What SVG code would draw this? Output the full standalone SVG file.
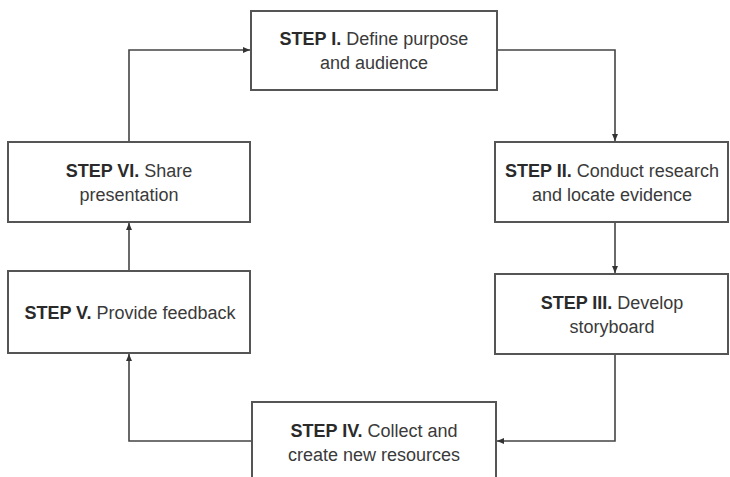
<svg xmlns="http://www.w3.org/2000/svg" width="730" height="477" viewBox="0 0 730 477">
<style>
.box{fill:#fff;stroke:#555;stroke-width:2}
.t{font-family:"Liberation Sans",Arial,sans-serif;font-size:18px;fill:#3a3a3a;text-anchor:middle}
.b{font-weight:bold;fill:#2a2a2a}
.c{fill:none;stroke:#444;stroke-width:1.6}
</style>
<defs>
<marker id="ah" markerUnits="userSpaceOnUse" markerWidth="8" markerHeight="8" refX="7" refY="4" orient="auto">
<path d="M0,1 L7,4 L0,7 Z" fill="#333"/>
</marker>
</defs>
<rect width="730" height="477" fill="#fff"/>
<g id="connectors">
<path class="c" d="M129,142 V50 H250" marker-end="url(#ah)"/>
<path class="c" d="M497,50 H615 V141" marker-end="url(#ah)"/>
<path class="c" d="M615,222 V273" marker-end="url(#ah)"/>
<path class="c" d="M615,354 V441 H497" marker-end="url(#ah)"/>
<path class="c" d="M252,441 H129 V354" marker-end="url(#ah)"/>
<path class="c" d="M129,271 V223" marker-end="url(#ah)"/>
</g>
<g id="step1">
<rect class="box" x="251" y="11" width="246" height="79"/>
<text class="t" x="374" y="45"><tspan class="b">STEP I.</tspan> Define purpose</text>
<text class="t" x="374" y="69">and audience</text>
</g>
<g id="step2">
<rect class="box" x="495" y="142" width="233" height="80"/>
<text class="t" x="612" y="177"><tspan class="b">STEP II.</tspan> Conduct research</text>
<text class="t" x="612" y="201">and locate evidence</text>
</g>
<g id="step3">
<rect class="box" x="495" y="274" width="233" height="80"/>
<text class="t" x="612" y="309"><tspan class="b">STEP III.</tspan> Develop</text>
<text class="t" x="612" y="333">storyboard</text>
</g>
<g id="step4">
<rect class="box" x="252" y="402" width="244" height="85"/>
<text class="t" x="374" y="437"><tspan class="b">STEP IV.</tspan> Collect and</text>
<text class="t" x="374" y="461">create new resources</text>
</g>
<g id="step5">
<rect class="box" x="8" y="271" width="242" height="82"/>
<text class="t" x="130" y="319"><tspan class="b">STEP V.</tspan> Provide feedback</text>
</g>
<g id="step6">
<rect class="box" x="8" y="142" width="242" height="80"/>
<text class="t" x="129" y="177"><tspan class="b">STEP VI.</tspan> Share</text>
<text class="t" x="129" y="201">presentation</text>
</g>
</svg>
